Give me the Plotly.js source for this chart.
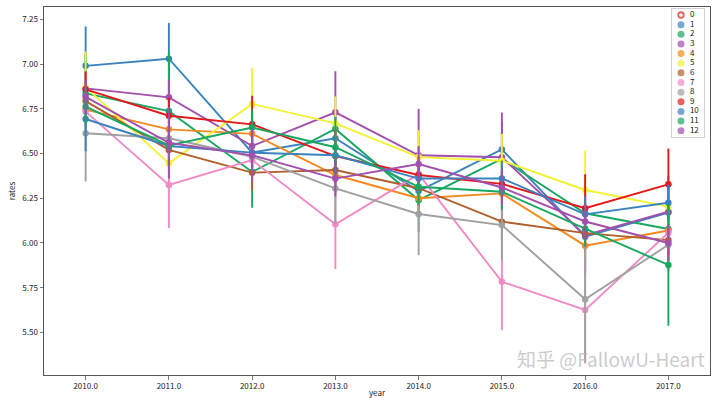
<!DOCTYPE html>
<html>
<head>
<meta charset="utf-8">
<script src="https://cdn.plot.ly/plotly-3.0.1.min.js"></script>
<style>html,body{margin:0;padding:0;background:#fff;}#chart{width:720px;height:398px;}</style>
</head>
<body>
<div id="chart"></div>
<script>
// ---- data ----
const years = [2010, 2011, 2012, 2013, 2014, 2015, 2016, 2017];
const yearLabels = ['2010.0', '2011.0', '2012.0', '2013.0', '2014.0', '2015.0', '2016.0', '2017.0'];
const hueNames = ['0', '1', '2', '3', '4', '5', '6', '7', '8', '9', '10', '11', '12'];
const hueColors = ['#e41a1c', '#3a83bf', '#18a862', '#a24fae', '#f5891e', '#f2f230', '#b05e2c',
                   '#f08bc5', '#a0a0a0', '#e3181b', '#3a83bf', '#18a862', '#a24fae'];

// mean rates per hue (hue 0 has no data)
const rates1  = [6.99, 7.03, 6.505, 6.585, 6.29, 6.523, 6.035, 6.17];
const rates2  = [6.836, 6.737, 6.397, 6.637, 6.24, 6.47, 6.166, 6.078];
const rates3  = [6.864, 6.814, 6.542, 6.73, 6.49, 6.479, 6.044, 6.175];
const rates4  = [6.745, 6.635, 6.61, 6.38, 6.25, 6.277, 5.985, 6.07];
const rates5  = [6.87, 6.445, 6.777, 6.669, 6.48, 6.46, 6.296, 6.203];
const rates6  = [6.793, 6.52, 6.393, 6.408, 6.306, 6.119, 6.055, 6.016];
const rates7  = [6.734, 6.324, 6.463, 6.104, 6.385, 5.783, 5.626, 6.057];
const rates8  = [6.613, 6.585, 6.482, 6.305, 6.162, 6.10, 5.685, 5.99];
const rates9  = [6.859, 6.711, 6.663, 6.486, 6.38, 6.33, 6.194, 6.328];
const rates10 = [6.693, 6.542, 6.505, 6.49, 6.36, 6.361, 6.16, 6.225];
const rates11 = [6.762, 6.545, 6.645, 6.535, 6.314, 6.286, 6.08, 5.877];
const rates12 = [6.817, 6.56, 6.49, 6.36, 6.441, 6.31, 6.12, 6.0];

// confidence interval half-widths
const ci1  = [0.22, 0.2, 0.12, 0.12, 0.15, 0.15, 0.2, 0.15];
const ci2  = [0.22, 0.33, 0.2, 0.1, 0.18, 0.15, 0.15, 0.15];
const ci3  = [0.1, 0.1, 0.12, 0.23, 0.26, 0.25, 0.23, 0.2];
const ci4  = [0.1, 0.1, 0.1, 0.1, 0.1, 0.1, 0.1, 0.1];
const ci5  = [0.2, 0.15, 0.2, 0.15, 0.15, 0.15, 0.22, 0.15];
const ci6  = [0.1, 0.1, 0.1, 0.1, 0.1, 0.1, 0.1, 0.1];
const ci7  = [0.1, 0.24, 0.1, 0.25, 0.15, 0.27, 0.3, 0.2];
const ci8  = [0.27, 0.1, 0.1, 0.2, 0.23, 0.2, 0.35, 0.15];
const ci9  = [0.1, 0.1, 0.16, 0.15, 0.1, 0.1, 0.19, 0.2];
const ci10 = [0.18, 0.1, 0.1, 0.1, 0.1, 0.1, 0.1, 0.1];
const ci11 = [0.1, 0.1, 0.1, 0.17, 0.1, 0.1, 0.1, 0.34];
const ci12 = [0.1, 0.2, 0.15, 0.1, 0.1, 0.1, 0.1, 0.1];

const yTicks = [5.5, 5.75, 6.0, 6.25, 6.5, 6.75, 7.0, 7.25];
const yTickLabels = ['5.50', '5.75', '6.00', '6.25', '6.50', '6.75', '7.00', '7.25'];

// ---- traces ----
const rateSeries = [null, rates1, rates2, rates3, rates4, rates5, rates6, rates7, rates8, rates9, rates10, rates11, rates12];
const ciSeries = [null, ci1, ci2, ci3, ci4, ci5, ci6, ci7, ci8, ci9, ci10, ci11, ci12];

const traces = [];
for (let h = 1; h < hueNames.length; h++) {
  traces.push({
    type: 'scatter', mode: 'lines+markers', name: hueNames[h],
    x: years, y: rateSeries[h],
    line: {color: hueColors[h], width: 1.9},
    marker: {color: hueColors[h], size: 6.5},
    error_y: {type: 'data', array: ciSeries[h], visible: true, color: hueColors[h], thickness: 1.9, width: 0},
    showlegend: false, hoverinfo: 'skip'
  });
}

// compact legend drawn on an overlay axis pair
const legendIdx = hueNames.map((n, i) => i);
traces.push({
  type: 'scatter', mode: 'markers', xaxis: 'x2', yaxis: 'y2',
  x: hueNames.map(() => 0.28), y: legendIdx,
  marker: {
    size: hueColors.map((c, i) => i === 0 ? 5.5 : 7),
    color: hueColors,
    symbol: hueColors.map((c, i) => i === 0 ? 'circle-open' : 'circle'),
    line: {color: hueColors, width: hueColors.map((c, i) => i === 0 ? 1.8 : 0)}
  },
  showlegend: false, hoverinfo: 'skip'
});
traces.push({
  type: 'scatter', mode: 'text', xaxis: 'x2', yaxis: 'y2',
  x: hueNames.map(() => 0.56), y: legendIdx, text: hueNames,
  textposition: 'middle right',
  textfont: {family: 'Noto Sans CJK SC, DejaVu Sans, sans-serif', size: 8, color: '#222'},
  showlegend: false, hoverinfo: 'skip'
});

const fontFam = 'Noto Sans CJK SC, DejaVu Sans, sans-serif';
const layout = {
  width: 720, height: 398,
  margin: {l: 44, r: 10, t: 7, b: 23, pad: 0},
  paper_bgcolor: '#fff', plot_bgcolor: '#fff',
  font: {family: fontFam, size: 8, color: '#222'},
  showlegend: false,
  xaxis: {
    range: [2009.5, 2017.5], tickvals: years, ticktext: yearLabels,
    showgrid: false, zeroline: false,
    showline: true, mirror: true, linecolor: '#555', linewidth: 1,
    ticks: 'outside', ticklen: 3.5, tickwidth: 0.8, tickcolor: '#555',
    tickfont: {size: 8, color: '#222'},
    title: {text: 'year', font: {size: 8, color: '#222'}, standoff: 3},
    automargin: false
  },
  yaxis: {
    range: [5.262, 7.319], tickvals: yTicks, ticktext: yTickLabels,
    showgrid: false, zeroline: false,
    showline: true, mirror: true, linecolor: '#555', linewidth: 1,
    ticks: 'outside', ticklen: 3.5, tickwidth: 0.8, tickcolor: '#555',
    tickfont: {size: 8, color: '#222'},
    title: {text: 'rates', font: {size: 8, color: '#222'}, standoff: 5},
    automargin: false
  },
  xaxis2: {
    domain: [0.943, 0.991], range: [0, 1], anchor: 'y2',
    showgrid: false, zeroline: false, showticklabels: false, ticks: '',
    showline: true, mirror: true, linecolor: '#d0d0d0', linewidth: 1
  },
  yaxis2: {
    domain: [0.648, 0.994], range: [12.6, -0.6], anchor: 'x2',
    showgrid: false, zeroline: false, showticklabels: false, ticks: '',
    showline: true, mirror: true, linecolor: '#d0d0d0', linewidth: 1
  },
  annotations: [{
    text: '知乎 @FallowU-Heart', xref: 'paper', yref: 'paper',
    x: 0.996, y: 0.003, xanchor: 'right', yanchor: 'bottom', showarrow: false,
    font: {family: fontFam, size: 19, color: 'rgba(180,180,180,0.7)'}
  }]
};

Plotly.newPlot('chart', traces, layout, {displayModeBar: false, staticPlot: true});
</script>
</body>
</html>
